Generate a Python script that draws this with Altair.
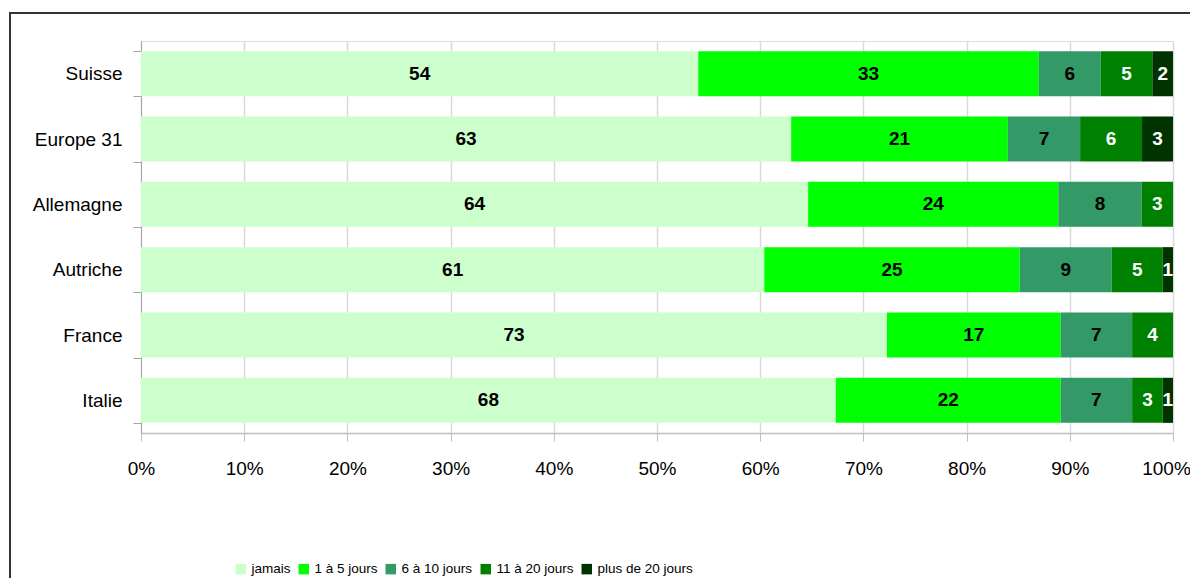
import altair as alt
import pandas as pd

countries = ["Suisse", "Europe 31", "Allemagne", "Autriche", "France", "Italie"]
categories = ["jamais", "1 à 5 jours", "6 à 10 jours", "11 à 20 jours", "plus de 20 jours"]
colors = ["#CCFFCC", "#00FF00", "#339966", "#008000", "#003300"]

jamais = [54, 63, 64, 61, 73, 68]
j1_5 = [33, 21, 24, 25, 17, 22]
j6_10 = [6, 7, 8, 9, 7, 7]
j11_20 = [5, 6, 3, 5, 4, 3]
plus20 = [2, 3, 0, 1, 0, 1]

series = [jamais, j1_5, j6_10, j11_20, plus20]
rows = []
for ci, cat in enumerate(categories):
    for k, c in enumerate(countries):
        v = series[ci][k]
        if v > 0:
            rows.append({"country": c, "category": cat, "order": ci, "value": v})
df = pd.DataFrame(rows)

FONT = "Liberation Sans"
W, H = 1032, 392

base = alt.Chart(df).transform_stack(
    stack="value", as_=["x0", "x1"], groupby=["country"],
    sort=[alt.SortField("order", order="ascending")], offset="normalize"
).transform_calculate(mid="(datum.x0 + datum.x1) / 2")

yenc = alt.Y("country:N", sort=countries, title=None,
             scale=alt.Scale(paddingInner=0.31, paddingOuter=0.155),
             axis=alt.Axis(labelFont=FONT, labelFontSize=19, labelColor="#000000",
                           domainColor="#a6a6a6", tickColor="#a6a6a6", tickSize=8,
                           tickBand="extent", labelPadding=11, grid=False))

bars = base.mark_bar().encode(
    y=yenc,
    x=alt.X("x0:Q", title=None, scale=alt.Scale(domain=[0, 1], nice=False),
            axis=alt.Axis(format=".0%", values=[i / 10 for i in range(11)],
                          labelFont=FONT, labelFontSize=19, labelColor="#000000",
                          grid=True, gridColor="#d9d9d9", gridWidth=1.5,
                          domainColor="#bfbfbf", domainWidth=1.5,
                          tickColor="#bfbfbf", tickSize=8, labelPadding=18,
                          labelFlush=False,
                          labelOffset={"condition": {"test": "datum.value == 1", "value": -7},
                                       "value": 0})),
    x2="x1:Q",
    color=alt.Color("category:N", sort=categories,
                    scale=alt.Scale(domain=categories, range=colors),
                    legend=alt.Legend(title=None, orient="none", direction="horizontal",
                                      legendX=93, legendY=521, symbolType="square",
                                      symbolSize=110, symbolStrokeWidth=0,
                                      labelFont=FONT, labelFontSize=13.5,
                                      labelColor="#000000", columnPadding=6,
                                      labelOffset=4, padding=0)),
    order=alt.Order("order:Q"),
)

labels = base.mark_text(font=FONT, fontSize=19, fontWeight="bold").encode(
    y=alt.Y("country:N", sort=countries),
    x=alt.X("mid:Q"),
    text=alt.Text("value:Q"),
    color=alt.condition("datum.order >= 3", alt.value("#ffffff"), alt.value("#000000")),
)

frame_df = pd.DataFrame({"f": [0]})
frame = alt.Chart(frame_df).mark_rect(fill=None, stroke="#333333", strokeWidth=2, clip=False).encode(
    x=alt.value(-131), x2=alt.value(W + 200), y=alt.value(-28), y2=alt.value(H + 400)
)

chart = alt.layer(frame, bars, labels).properties(
    width=W, height=H,
    padding={"left": 133, "top": 33, "right": 17, "bottom": 145},
    autosize=alt.AutoSizeParams(type="none"),
).configure_view(stroke="#d9d9d9", strokeWidth=1.5).configure(background="#ffffff")

chart.save("out.html", embed_options={"renderer": "svg", "actions": False})
